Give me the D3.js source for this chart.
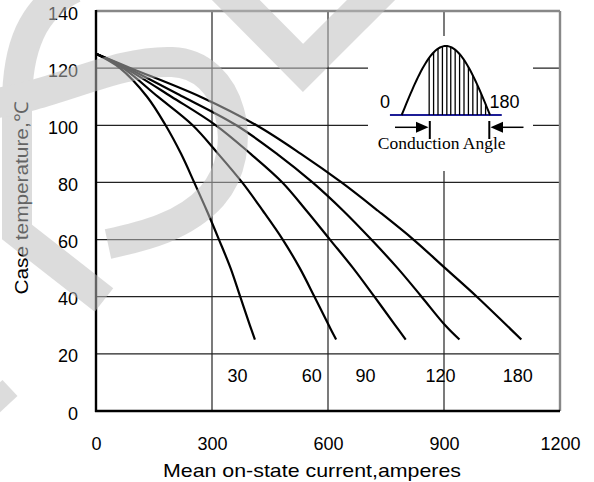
<!DOCTYPE html>
<html>
<head>
<meta charset="utf-8">
<script src="https://cdn.jsdelivr.net/npm/d3@7"></script>
<style>
  body { margin: 0; background: #fff; }
</style>
</head>
<body>
<div id="plot"></div>
<script>
// conduction angles (degrees) and the curve for each: [current A, case temp C]
var angles = [30, 60, 90, 120, 180];

var curve30 = [[0,125],[62,120],[132,110],[180,100],[220,90],[254,80],[287,70],[318,60],[348,50],[373,40],[398,30],[411,25]];
var curve60 = [[0,125],[70,120],[160,110],[250,100],[316,90],[378,80],[432,70],[483,60],[527,50],[565,40],[602,30],[621,25]];
var curve90 = [[0,125],[75,120],[195,110],[310,100],[400,90],[482,80],[545,70],[605,60],[665,50],[720,40],[774,30],[801,25]];
var curve120 = [[0,125],[82,120],[225,110],[363,100],[468,90],[560,80],[640,70],[712,60],[780,50],[842,40],[903,30],[940,25]];
var curve180 = [[0,125],[90,120],[270,110],[415,100],[530,90],[635,80],[730,70],[821,60],[903,50],[985,40],[1062,30],[1100,25]];
var curves = [curve30, curve60, curve90, curve120, curve180];

// where the angle labels sit along the current axis
var labelCurrent = [366, 558, 697, 891, 1091];
var labelTemp = 12.6;

var xTicks = [0, 300, 600, 900, 1200];
var yTicks = [0, 20, 40, 60, 80, 100, 120, 140];
var xTitle = "Mean on-state current,amperes";
var yTitle = "Case temperature,\u2103";

// inset: hatched part of the half sine wave
var hatchAngles = [56, 65, 74, 83, 92, 100, 109, 118, 127, 136, 145, 154, 162, 171];

var W = 594, H = 482;
var margin = { top: 11, right: 34, bottom: 71, left: 96 };
var sans = "Liberation Sans, Arial, sans-serif";

var x = d3.scaleLinear().domain([0, 1200]).range([margin.left, W - margin.right]);
var y = d3.scaleLinear().domain([0, 140]).range([H - margin.bottom, margin.top]);

var svg = d3.select("#plot").append("svg")
    .attr("width", W)
    .attr("height", H)
    .attr("font-family", sans);

// grid
var grid = svg.append("g").attr("stroke", "#222").attr("stroke-width", 1.2);
grid.selectAll(".gx").data(xTicks.slice(1, -1)).enter().append("line")
    .attr("x1", function (d) { return x(d); }).attr("x2", function (d) { return x(d); })
    .attr("y1", y(0)).attr("y2", y(140));
grid.selectAll(".gy").data(yTicks.slice(1, -1)).enter().append("line")
    .attr("x1", x(0)).attr("x2", x(1200))
    .attr("y1", function (d) { return y(d); }).attr("y2", function (d) { return y(d); });

// frame: top/right grey, left/bottom black
svg.append("line").attr("x1", x(0)).attr("x2", x(1200)).attr("y1", y(140)).attr("y2", y(140))
    .attr("stroke", "#888").attr("stroke-width", 2.4);
svg.append("line").attr("x1", x(1200)).attr("x2", x(1200)).attr("y1", y(140)).attr("y2", y(0))
    .attr("stroke", "#888").attr("stroke-width", 2.4);
svg.append("line").attr("x1", x(0)).attr("x2", x(0)).attr("y1", y(140) - 1).attr("y2", y(0) + 1)
    .attr("stroke", "#000").attr("stroke-width", 2.4);
svg.append("line").attr("x1", x(0) - 1).attr("x2", x(1200)).attr("y1", y(0)).attr("y2", y(0))
    .attr("stroke", "#000").attr("stroke-width", 2.4);

// axis labels
var xAxis = d3.axisBottom(x).tickValues(xTicks).tickFormat(d3.format("d")).tickSize(0).tickPadding(26);
var yAxis = d3.axisLeft(y).tickValues(yTicks).tickFormat(d3.format("d")).tickSize(0).tickPadding(18);

var gx = svg.append("g").attr("transform", "translate(0," + y(0) + ")").call(xAxis);
var gy = svg.append("g").attr("transform", "translate(" + x(0) + ",0)").call(yAxis);
[gx, gy].forEach(function (g) {
    g.select(".domain").remove();
    g.attr("font-family", sans).attr("font-size", 18);
    g.selectAll("text").attr("fill", "#000");
});
gy.selectAll("text").attr("dy", "0.45em");

svg.append("text")
    .attr("x", 312).attr("y", 477)
    .attr("text-anchor", "middle")
    .attr("font-size", 19)
    .attr("textLength", 298).attr("lengthAdjust", "spacingAndGlyphs")
    .text(xTitle);

svg.append("text")
    .attr("transform", "translate(28,198) rotate(-90)")
    .attr("text-anchor", "middle")
    .attr("font-size", 19)
    .attr("textLength", 193).attr("lengthAdjust", "spacingAndGlyphs")
    .text(yTitle);

// curves
var line = d3.line()
    .curve(d3.curveCatmullRom.alpha(0.5))
    .x(function (d) { return x(d[0]); })
    .y(function (d) { return y(d[1]); });

svg.append("g").selectAll("path").data(curves).enter().append("path")
    .attr("d", line)
    .attr("fill", "none")
    .attr("stroke", "#000")
    .attr("stroke-width", 2.2);

svg.append("g").selectAll("text").data(angles).enter().append("text")
    .attr("x", function (d, i) { return x(labelCurrent[i]); })
    .attr("y", y(labelTemp) + 6.5)
    .attr("text-anchor", "middle")
    .attr("font-size", 18)
    .text(function (d) { return d; });

// inset
svg.append("rect").attr("x", 368).attr("y", 36).attr("width", 165).attr("height", 135).attr("fill", "#fff");

var ax = d3.scaleLinear().domain([0, 180]).range([401.7, 490]);
var ay = d3.scaleLinear().domain([0, 1]).range([115, 46]);
var inset = svg.append("g");

inset.append("line")
    .attr("x1", ax(-24)).attr("x2", ax(204)).attr("y1", ay(0)).attr("y2", ay(0))
    .attr("stroke", "#1c1c96").attr("stroke-width", 2.2);

inset.selectAll(".hatch").data(hatchAngles).enter().append("line")
    .attr("x1", function (d) { return ax(d); }).attr("x2", function (d) { return ax(d); })
    .attr("y1", ay(0))
    .attr("y2", function (d) { return ay(Math.sin(d * Math.PI / 180)); })
    .attr("stroke", "#000").attr("stroke-width", 1.3);

var wave = d3.line()
    .x(function (d) { return ax(d); })
    .y(function (d) { return ay(Math.sin(d * Math.PI / 180)); });
inset.append("path").attr("d", wave(d3.range(0, 181, 3)))
    .attr("fill", "none").attr("stroke", "#000").attr("stroke-width", 2);

var narrow = "Liberation Sans Narrow, Arial Narrow, sans-serif";
inset.append("text").attr("x", 390).attr("y", 108).attr("text-anchor", "end")
    .attr("font-family", narrow).attr("font-size", 18).text("0");
inset.append("text").attr("x", 489.5).attr("y", 108)
    .attr("font-family", narrow).attr("font-size", 18).text("180");

// conduction angle arrows
var ay2 = 127.3;
inset.append("line").attr("x1", 395).attr("x2", 418).attr("y1", ay2).attr("y2", ay2).attr("stroke", "#000").attr("stroke-width", 1.5);
inset.append("path").attr("d", "M416," + (ay2 - 5.5) + "L428.5," + ay2 + "L416," + (ay2 + 5.5) + "Z").attr("fill", "#000");
inset.append("line").attr("x1", 429.8).attr("x2", 429.8).attr("y1", 121).attr("y2", 139).attr("stroke", "#000").attr("stroke-width", 2);
inset.append("line").attr("x1", 489.3).attr("x2", 489.3).attr("y1", 121).attr("y2", 139).attr("stroke", "#000").attr("stroke-width", 2);
inset.append("path").attr("d", "M503," + (ay2 - 5.5) + "L490.5," + ay2 + "L503," + (ay2 + 5.5) + "Z").attr("fill", "#000");
inset.append("line").attr("x1", 501).attr("x2", 523.5).attr("y1", ay2).attr("y2", ay2).attr("stroke", "#000").attr("stroke-width", 1.5);

inset.append("text").attr("x", 441.7).attr("y", 149).attr("text-anchor", "middle")
    .attr("font-family", "Liberation Serif, Times New Roman, serif").attr("font-size", 17.5)
    .text("Conduction Angle");

// faint watermark laid over everything
var wm = svg.append("g").attr("opacity", 0.53)
    .attr("fill", "none").attr("stroke", "#bebebe").attr("stroke-linecap", "butt");
wm.append("path").attr("stroke-width", 30)
    .attr("d", "M74,-12 C32,8 17,48 17,105 L17,232 L104,300");
wm.append("path").attr("stroke-width", 30)
    .attr("d", "M-10,104 C55,96 115,60 172,62 C232,64 252,150 212,196 C185,226 145,236 108,244");
wm.append("path").attr("stroke-width", 34).attr("stroke-linejoin", "miter")
    .attr("d", "M222,-14 L303,68 L385,-14");
wm.append("path").attr("stroke-width", 22)
    .attr("d", "M-30,425 L10,388");
</script>
</body>
</html>
